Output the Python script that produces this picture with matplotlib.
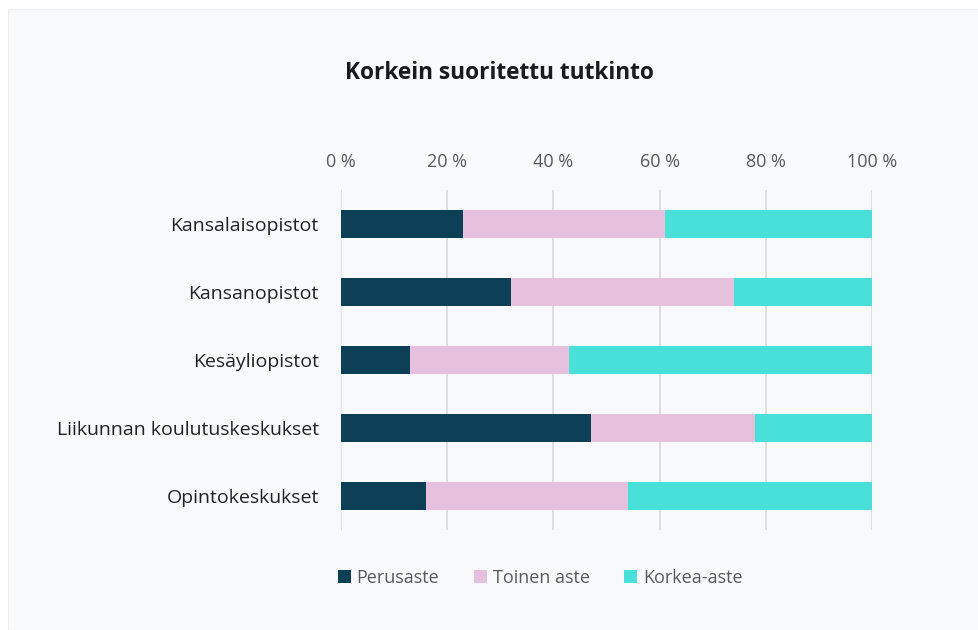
import matplotlib.pyplot as plt
from matplotlib.patches import Rectangle

categories = ["Kansalaisopistot", "Kansanopistot", "Kesäyliopistot",
              "Liikunnan koulutuskeskukset", "Opintokeskukset"]
series = ["Perusaste", "Toinen aste", "Korkea-aste"]
perusaste = [23, 32, 13, 47, 16]
toinen = [38, 42, 30, 31, 38]
korkea = [39, 26, 57, 22, 46]
colors = ["#0d3f56", "#e6c1dd", "#48e0d9"]
ticks = [0, 20, 40, 60, 80, 100]

plt.rcParams['font.family'] = ['Open Sans', 'DejaVu Sans']

fig = plt.figure(figsize=(9.79, 6.3), dpi=100)
fig.patch.set_facecolor("white")
fig.patches.append(Rectangle((8 / 979, 0), 1, 1 - 9 / 630, transform=fig.transFigure,
                             facecolor="#f8f9fb", edgecolor="#eeeeee", lw=0.8, zorder=-1))

ax = fig.add_axes([341 / 979, 100 / 630, (872 - 341) / 979, 340 / 630])
ax.set_facecolor("none")

left = [0] * len(categories)
for name, vals, c in zip(series, [perusaste, toinen, korkea], colors):
    ax.barh(categories, vals, left=left, height=0.41, color=c, label=name, zorder=3)
    left = [l + v for l, v in zip(left, vals)]

ax.set_xlim(0, 100)
ax.set_ylim(4.5, -0.5)
ax.set_xticks(ticks)
ax.set_xticklabels([f"{t} %" for t in ticks], color="#595959", fontsize=13)
ax.xaxis.tick_top()
ax.tick_params(axis="x", length=0, pad=14)
ax.tick_params(axis="y", length=0, pad=16, labelsize=14, labelcolor="#222222")
ax.grid(axis="x", color="#d9d9d9", lw=1.2, zorder=0)
for s in ax.spines.values():
    s.set_visible(False)

fig.text(499 / 979, 1 - 73 / 630, "Korkein suoritettu tutkinto", ha="center", va="center",
         fontsize=16.3, fontweight="bold", color="#1a1a1a")

fig.legend(loc="center", bbox_to_anchor=(540 / 979, 1 - 578 / 630), ncol=3, frameon=False,
           fontsize=13, labelcolor="#595959", handlelength=0.75, handleheight=0.75,
           handletextpad=0.3, columnspacing=1.9)

fig.savefig("out.png", dpi=100)
